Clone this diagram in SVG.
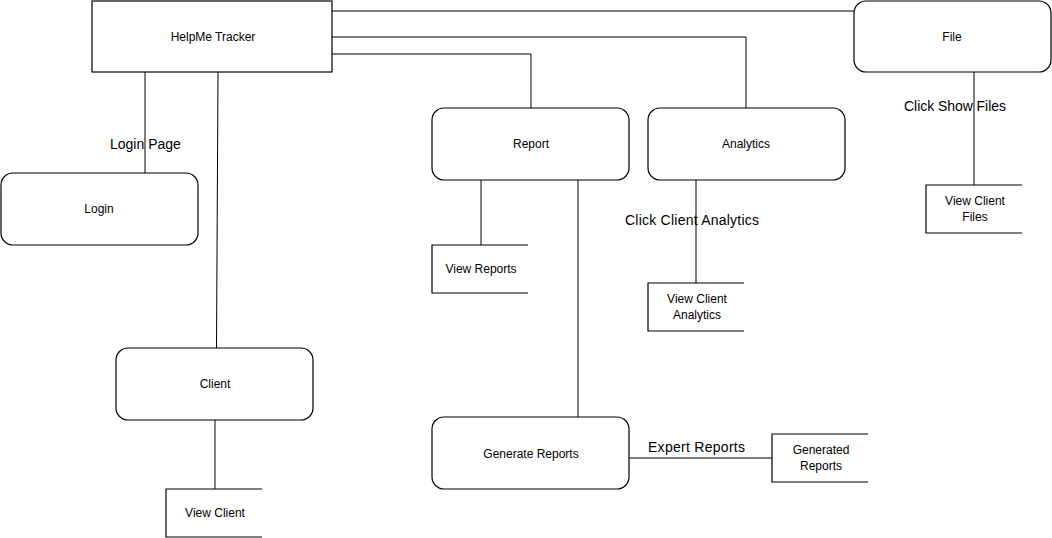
<svg xmlns="http://www.w3.org/2000/svg" width="1052" height="538" viewBox="0 0 1052 538">
<style>
.box{fill:#fff;stroke:#000;stroke-width:1.2}
.ds{fill:none;stroke:#000;stroke-width:1.2}
.c{fill:none;stroke:#000;stroke-width:1}
.t{font-family:"Liberation Sans",Arial,sans-serif;font-size:12px;fill:#000;text-anchor:middle}
.l{font-family:"Liberation Sans",Arial,sans-serif;font-size:14px;fill:#000}
</style>
<rect width="1052" height="538" fill="#fff"/>
<g id="connectors">
<path class="c" d="M332 11H854"/>
<path class="c" d="M332 37H746V108"/>
<path class="c" d="M332 54H531V108"/>
<path class="c" d="M145 72V173"/>
<path class="c" d="M218 72L216.5 348"/>
<path class="c" d="M481 180V245"/>
<path class="c" d="M578 180V417"/>
<path class="c" d="M696 180V283"/>
<path class="c" d="M974 72V185"/>
<path class="c" d="M215 420V489"/>
<path class="c" d="M629 458H772"/>
<text class="l" x="110" y="149">Login Page</text>
<text class="l" x="625" y="225" textLength="134">Click Client Analytics</text>
<text class="l" x="904" y="111" textLength="102">Click Show Files</text>
<text class="l" x="648" y="452" textLength="97">Expert Reports</text>
</g>
<g id="helpme"><rect class="box" x="92" y="1" width="240" height="71"/><text class="t" x="213" y="41">HelpMe Tracker</text></g>
<g id="file"><rect class="box" x="854" y="1" width="197" height="71" rx="12"/><text class="t" x="952" y="41">File</text></g>
<g id="report"><rect class="box" x="432" y="108" width="197" height="72" rx="12"/><text class="t" x="531" y="148">Report</text></g>
<g id="analytics"><rect class="box" x="648" y="108" width="197" height="72" rx="12"/><text class="t" x="746" y="148">Analytics</text></g>
<g id="login"><rect class="box" x="1" y="173" width="197" height="72" rx="12"/><text class="t" x="99" y="213">Login</text></g>
<g id="client"><rect class="box" x="116" y="348" width="197" height="72" rx="12"/><text class="t" x="215" y="388">Client</text></g>
<g id="generate"><rect class="box" x="432" y="417" width="197" height="72" rx="12"/><text class="t" x="531" y="458">Generate Reports</text></g>
<g id="viewreports"><path class="ds" d="M528 245H432V293H528"/><text class="t" x="481" y="273">View Reports</text></g>
<g id="viewanalytics"><path class="ds" d="M744 283H648V331H744"/><text class="t" x="697" y="303">View Client</text><text class="t" x="697" y="319">Analytics</text></g>
<g id="viewfiles"><path class="ds" d="M1022 185H926V233H1022"/><text class="t" x="975" y="205">View Client</text><text class="t" x="975" y="221">Files</text></g>
<g id="viewclient"><path class="ds" d="M262 489H166V537H262"/><text class="t" x="215" y="517">View Client</text></g>
<g id="generated"><path class="ds" d="M868 434H772V482H868"/><text class="t" x="821" y="454">Generated</text><text class="t" x="821" y="470">Reports</text></g>
</svg>
